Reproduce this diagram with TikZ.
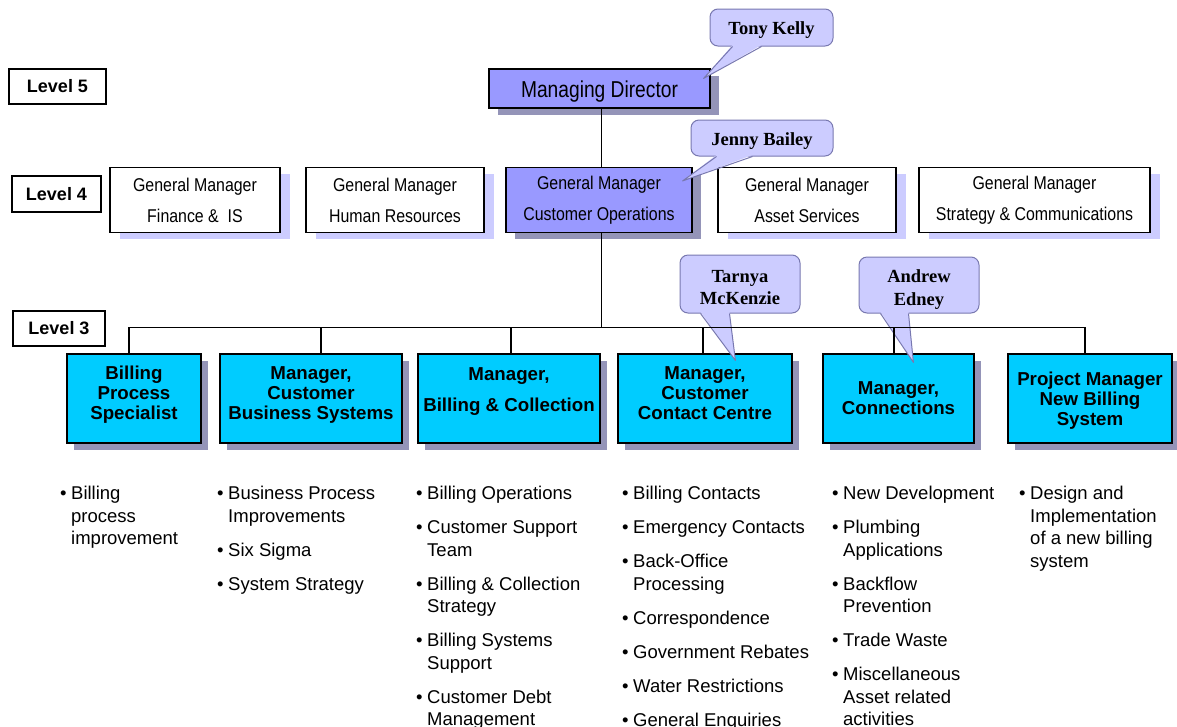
\documentclass[tikz,border=0pt]{standalone}
\usepackage{fontspec}
\setmainfont{Liberation Sans}
\newfontfamily\narrowfont[FakeStretch=0.86]{Liberation Sans}
\newfontfamily\mdfont[FakeStretch=0.835]{Liberation Sans}
\newfontfamily\namefont{Liberation Serif}
\usetikzlibrary{calc,shadows}
\definecolor{mdfill}{RGB}{153,153,255}
\definecolor{darkshadow}{RGB}{148,148,184}
\definecolor{lightshadow}{RGB}{204,204,255}
\definecolor{cyanfill}{RGB}{0,204,255}
\definecolor{callfill}{RGB}{204,204,255}
\definecolor{callborder}{RGB}{120,120,176}
\newcommand{\bl}{\leavevmode\llap{\textbullet\hspace{4.5pt}}}
\newcommand{\ig}{\\[11.5pt]}
\tikzset{
  lvl/.style={draw=black, line width=1.2pt, fill=white, inner sep=0pt,
    font=\bfseries\fontsize{18}{20}\selectfont},
  mdbox/.style={draw=black, line width=1.2pt, fill=mdfill, inner sep=0pt,
    drop shadow={shadow xshift=9pt, shadow yshift=-7pt, fill=darkshadow, opacity=1}},
  gmbox/.style={draw=black, line width=1.2pt, fill=white, inner sep=0pt, align=center,
    font=\narrowfont\fontsize{18.5}{31}\selectfont,
    drop shadow={shadow xshift=10pt, shadow yshift=-6pt, fill=lightshadow, opacity=1}},
  cubox/.style={draw=black, line width=1.2pt, fill=mdfill, inner sep=0pt, align=center,
    font=\narrowfont\fontsize{18.5}{31}\selectfont,
    drop shadow={shadow xshift=9pt, shadow yshift=-6pt, fill=darkshadow, opacity=1}},
  l3box/.style={draw=black, line width=1.2pt, fill=cyanfill, inner sep=0pt,
    minimum height=89,
    drop shadow={shadow xshift=7pt, shadow yshift=-7pt, fill=darkshadow, opacity=1}},
  l3text/.style={inner sep=0pt, align=center, font=\bfseries\fontsize{18.7}{20}\selectfont},
  callout/.style={draw=callborder, line width=1pt, fill=callfill, rounded corners=8pt,
    inner sep=0pt},
  nametext/.style={inner sep=0pt, align=center,
    font=\namefont\bfseries\fontsize{18.5}{22.5}\selectfont},
  ptrfill/.style={fill=callfill},
  ptrline/.style={draw=callborder, line width=1pt, line join=round},
  conn/.style={draw=black, line width=1.3pt},
  listtext/.style={anchor=base west, inner sep=0pt}
}
\begin{document}
\begin{tikzpicture}[x=1pt, y=-1pt]
\useasboundingbox (0,0) rectangle (1177,726);
\clip (0,0) rectangle (1177,726);

% level labels
\node[lvl, minimum width=97, minimum height=35] (l5) at (57.5,86.5) {Level 5};
\node[lvl, minimum width=89, minimum height=36] (l4) at (56.5,194) {Level 4};
\node[lvl, minimum width=92, minimum height=35] (l3) at (59,328.5) {Level 3};

% level 5
\node[mdbox, minimum width=221, minimum height=39, text height=18, text depth=0,
  font=\mdfont\fontsize{23}{25}\selectfont] (md) at (599.5,88.5) {Managing Director};

% level 4
\node[gmbox, minimum width=170, minimum height=65] (fi) at (195,200) {General Manager\\Finance \&\ \ IS};
\node[gmbox, minimum width=178, minimum height=65] (hr) at (395,200) {General Manager\\Human Resources};
\node[cubox, minimum width=186, minimum height=65] (cu) at (599,200) {General Manager\\Customer Operations};
\node[gmbox, minimum width=178, minimum height=65] (as) at (807,200) {General Manager\\Asset Services};
\node[gmbox, minimum width=231, minimum height=65] (st) at (1034.5,200) {General Manager\\Strategy \& Communications};

% level 3
\node[l3box, minimum width=134] (b1) at (134,398.5) {};
\node[l3box, minimum width=182] (b2) at (311,398.5) {};
\node[l3box, minimum width=182] (b3) at (509,398.5) {};
\node[l3box, minimum width=174] (b4) at (705,398.5) {};
\node[l3box, minimum width=151] (b5) at (898.5,398.5) {};
\node[l3box, minimum width=164] (b6) at (1090,398.5) {};
\node[l3text] (t1) at ($(b1.center)+(0,-3.5)$) {Billing\\Process\\Specialist};
\node[l3text] (t2) at ($(b2.center)+(0,-3.5)$) {Manager,\\Customer\\Business Systems};
\node[l3text] (t3) at ($(b3.center)+(0,-6.5)$) {Manager,\\[11pt]Billing \& Collection};
\node[l3text] (t4) at ($(b4.center)+(0,-5.5)$) {Manager,\\Customer\\Contact Centre};
\node[l3text] (t5) at ($(b5.center)+(0,-0.5)$) {Manager,\\Connections};
\node[l3text] (t6) at ($(b6.center)+(0,2.5)$) {Project Manager\\New Billing\\System};

% callouts
\node[callout, minimum width=123, minimum height=37] (tk) at (771.5,27.5) {};
\coordinate (tkTip) at ($(md.north east)+(-7,10)$);
\fill[ptrfill] ($(tk.south west)+(23,-1.5)$) -- (tkTip) -- ($(tk.south west)+(52,-1.5)$) -- cycle;
\draw[ptrline] ($(tk.south west)+(23,0)$) -- (tkTip) -- ($(tk.south west)+(52,0)$);
\node[nametext] (tkn) at ($(tk.center)+(0,2.5)$) {Tony Kelly};

\node[callout, minimum width=142, minimum height=36] (jb) at (762,138) {};
\coordinate (jbTip) at ($(cu.north east)+(-10,14)$);
\fill[ptrfill] ($(jb.south west)+(26,-1.5)$) -- (jbTip) -- ($(jb.south west)+(62,-1.5)$) -- cycle;
\draw[ptrline] ($(jb.south west)+(26,0)$) -- (jbTip) -- ($(jb.south west)+(62,0)$);
\node[nametext] (jbn) at ($(jb.center)+(0,3)$) {Jenny Bailey};

\node[callout, minimum width=120, minimum height=58] (tm) at (740,284) {};
\coordinate (tmTip) at ($(b4.north west)+(118,7)$);
\fill[ptrfill] ($(tm.south west)+(21,-1.5)$) -- (tmTip) -- ($(tm.south west)+(50,-1.5)$) -- cycle;
\draw[ptrline] ($(tm.south west)+(21,0)$) -- (tmTip) -- ($(tm.south west)+(50,0)$);
\node[nametext] (tmn) at ($(tm.center)+(0,3.5)$) {Tarnya\\McKenzie};

\node[callout, minimum width=120, minimum height=56] (ae) at (919,285) {};
\coordinate (aeTip) at ($(b5.north west)+(91,9)$);
\fill[ptrfill] ($(ae.south west)+(22,-1.5)$) -- (aeTip) -- ($(ae.south west)+(50,-1.5)$) -- cycle;
\draw[ptrline] ($(ae.south west)+(22,0)$) -- (aeTip) -- ($(ae.south west)+(50,0)$);
\node[nametext] (aen) at ($(ae.center)+(0,4.5)$) {Andrew\\Edney};

% connectors
\coordinate (tr) at ($(md.south)+(2,0)$);
\coordinate (bus) at ($(b1.north)+(-5,-26)$);
\draw[conn] (tr) -- (tr |- cu.north);
\draw[conn] (tr |- cu.south) -- (tr |- bus);
\draw[conn] (bus) -- ($(b6.north)+(-5,-26)$);
\foreach \n/\dx in {b1/-5,b2/10,b3/2,b4/-2,b5/-4.5,b6/-5}
  \draw[conn] ($(\n.north)+(\dx,0)$) -- ++(0,-26);

% bullet lists
\node[listtext] (li1) at (71,499.5) {\parbox[t]{150pt}{\fontsize{18.5}{22.5}\selectfont\raggedright
 \bl Billing\\process\\improvement}};
\node[listtext] (li2) at (228,499.5) {\parbox[t]{180pt}{\fontsize{18.5}{22.5}\selectfont\raggedright
 \bl Business Process\\Improvements\ig
 \bl Six Sigma\ig
 \bl System Strategy}};
\node[listtext] (li3) at (427,499.5) {\parbox[t]{180pt}{\fontsize{18.5}{22.5}\selectfont\raggedright
 \bl Billing Operations\ig
 \bl Customer Support\\Team\ig
 \bl Billing \& Collection\\Strategy\ig
 \bl Billing Systems\\Support\ig
 \bl Customer Debt\\Management}};
\node[listtext] (li4) at (633,499.5) {\parbox[t]{190pt}{\fontsize{18.5}{22.5}\selectfont\raggedright
 \bl Billing Contacts\ig
 \bl Emergency Contacts\ig
 \bl Back-Office\\Processing\ig
 \bl Correspondence\ig
 \bl Government Rebates\ig
 \bl Water Restrictions\ig
 \bl General Enquiries}};
\node[listtext] (li5) at (843,499.5) {\parbox[t]{170pt}{\fontsize{18.5}{22.5}\selectfont\raggedright
 \bl New Development\ig
 \bl Plumbing\\Applications\ig
 \bl Backflow\\Prevention\ig
 \bl Trade Waste\ig
 \bl Miscellaneous\\Asset related\\activities}};
\node[listtext] (li6) at (1030,499.5) {\parbox[t]{145pt}{\fontsize{18.5}{22.5}\selectfont\raggedright
 \bl Design and\\Implementation\\of a new billing\\system}};
\end{tikzpicture}
\end{document}
